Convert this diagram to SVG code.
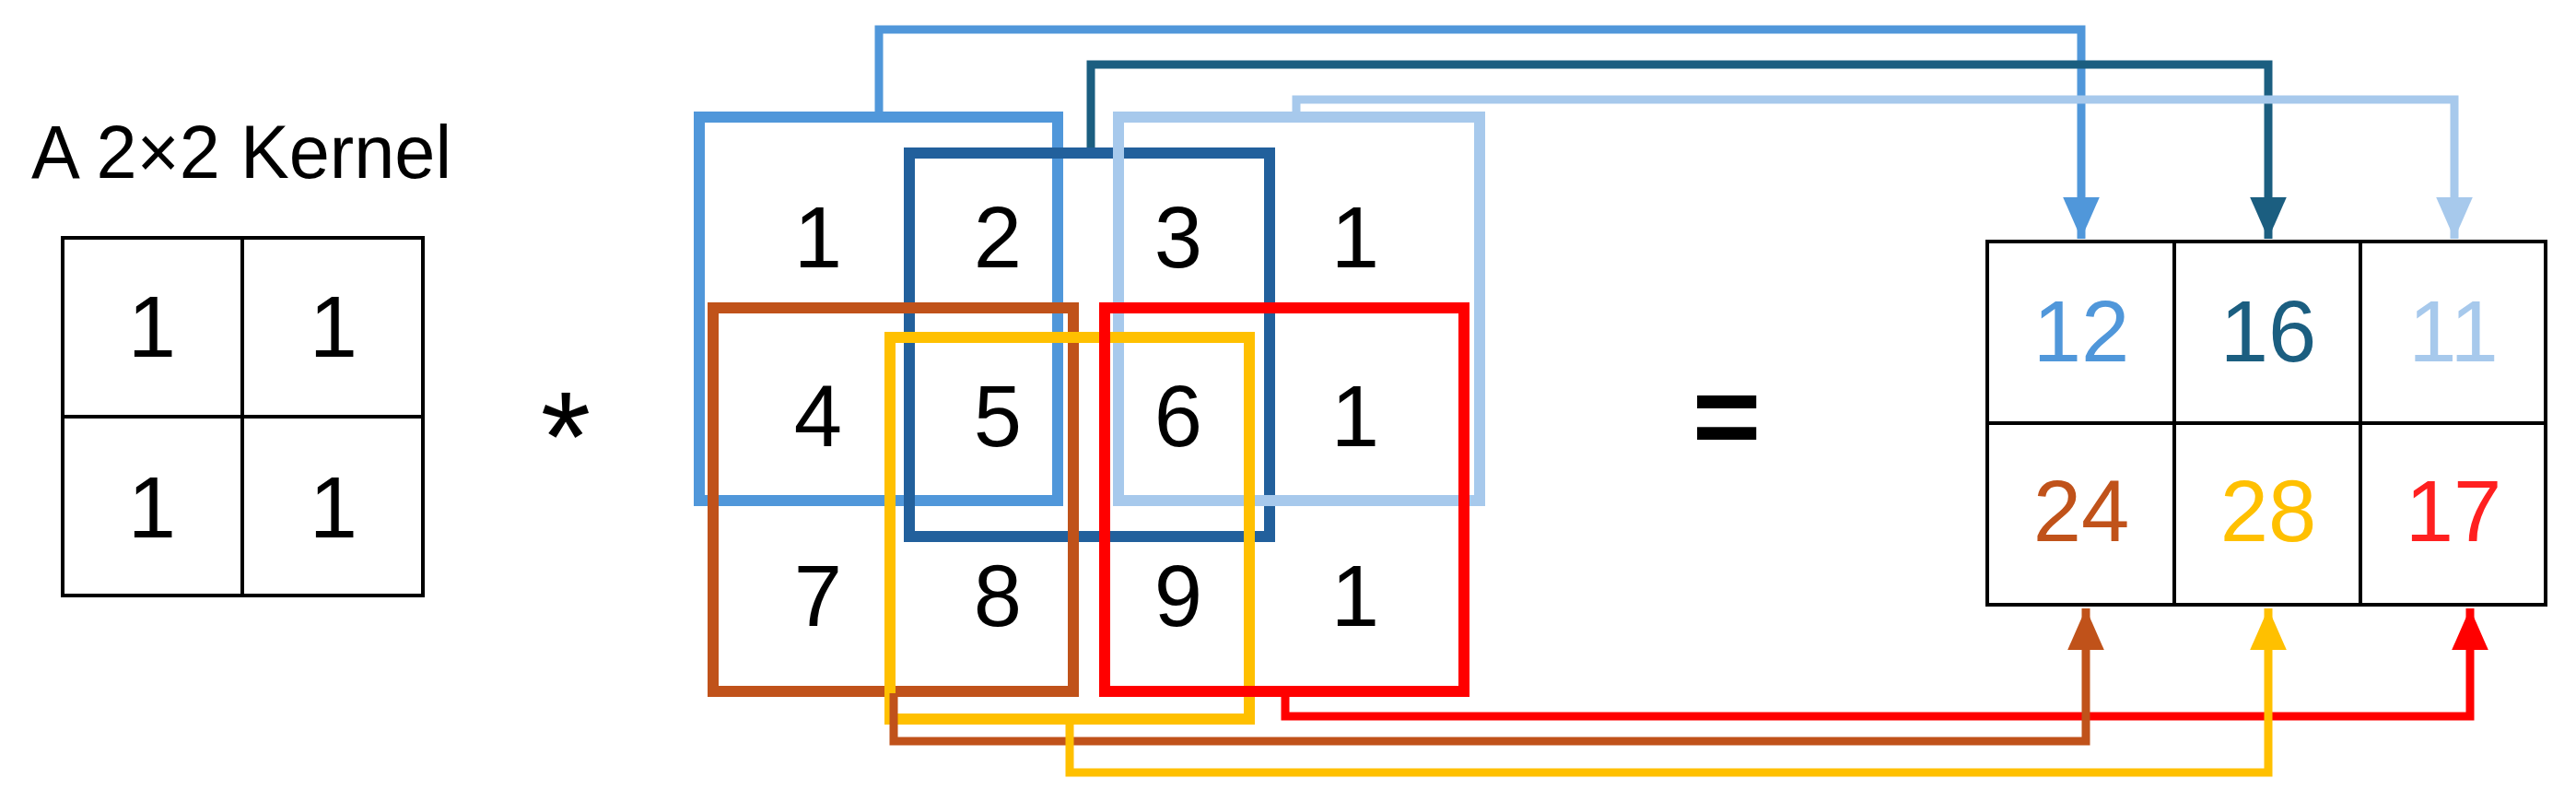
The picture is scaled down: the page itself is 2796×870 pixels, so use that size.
<svg xmlns="http://www.w3.org/2000/svg" width="2796" height="870" viewBox="0 0 2796 870">
<style>
text{font-family:"Liberation Sans",Arial,sans-serif;text-anchor:middle}
.n{font-size:94px}
.g{fill:none;stroke:#000;stroke-width:4}
.b{fill:none;stroke-width:12}
.c{fill:none;stroke-width:9}
</style>
<defs>
<marker id="a1" viewBox="0 0 10 10" refX="10" refY="5" markerWidth="5" markerHeight="4.4" orient="auto" markerUnits="strokeWidth" preserveAspectRatio="none"><path d="M0,0L10,5L0,10z" fill="#5097DA"/></marker>
<marker id="a2" viewBox="0 0 10 10" refX="10" refY="5" markerWidth="5" markerHeight="4.4" orient="auto" markerUnits="strokeWidth" preserveAspectRatio="none"><path d="M0,0L10,5L0,10z" fill="#1B5E80"/></marker>
<marker id="a3" viewBox="0 0 10 10" refX="10" refY="5" markerWidth="5" markerHeight="4.4" orient="auto" markerUnits="strokeWidth" preserveAspectRatio="none"><path d="M0,0L10,5L0,10z" fill="#A7C9EC"/></marker>
<marker id="a4" viewBox="0 0 10 10" refX="10" refY="5" markerWidth="5" markerHeight="4.4" orient="auto" markerUnits="strokeWidth" preserveAspectRatio="none"><path d="M0,0L10,5L0,10z" fill="#C0521A"/></marker>
<marker id="a5" viewBox="0 0 10 10" refX="10" refY="5" markerWidth="5" markerHeight="4.4" orient="auto" markerUnits="strokeWidth" preserveAspectRatio="none"><path d="M0,0L10,5L0,10z" fill="#FFC000"/></marker>
<marker id="a6" viewBox="0 0 10 10" refX="10" refY="5" markerWidth="5" markerHeight="4.4" orient="auto" markerUnits="strokeWidth" preserveAspectRatio="none"><path d="M0,0L10,5L0,10z" fill="#FF0000"/></marker>
</defs>
<rect width="2796" height="870" fill="#fff"/>
<g id="kernel">
<text x="262" y="193" font-size="82" textLength="456" lengthAdjust="spacingAndGlyphs">A 2×2 Kernel</text>
<path class="g" d="M68,258H459V646H68Z M263,258V646 M68,452H459"/>
<text class="n" x="165" y="387">1</text><text class="n" x="362" y="387">1</text>
<text class="n" x="165" y="583">1</text><text class="n" x="362" y="583">1</text>
</g>
<g id="op-star"><text x="614" y="522" font-size="140">*</text></g>
<g id="input">
<text class="n" x="888" y="290">1</text><text class="n" x="1083" y="290">2</text><text class="n" x="1279" y="290">3</text><text class="n" x="1471" y="290">1</text>
<text class="n" x="888" y="484">4</text><text class="n" x="1083" y="484">5</text><text class="n" x="1279" y="484">6</text><text class="n" x="1471" y="484">1</text>
<text class="n" x="888" y="679">7</text><text class="n" x="1083" y="679">8</text><text class="n" x="1279" y="679">9</text><text class="n" x="1471" y="679">1</text>
</g>
<g id="windows">
<rect class="b" stroke="#5097DA" x="759" y="127" width="389" height="416"/>
<rect class="b" stroke="#22609C" x="987" y="166" width="391" height="416"/>
<rect class="b" stroke="#A7C9EC" x="1214" y="127" width="392" height="416"/>
<rect class="b" stroke="#C0521A" x="774" y="334" width="391" height="416"/>
<rect class="b" stroke="#FFC000" x="966" y="366" width="390" height="414"/>
<rect class="b" stroke="#FF0000" x="1199" y="334" width="390" height="416"/>
</g>
<g id="op-eq"><text x="1874" y="495" font-size="128" font-weight="bold">=</text></g>
<g id="output">
<path class="g" d="M2157,262H2763V656H2157Z M2360,262V656 M2562,262V656 M2157,459H2763"/>
<text class="n" x="2259" y="392" fill="#5097DA">12</text>
<text class="n" x="2462" y="392" fill="#1B5E80">16</text>
<text class="n" x="2663" y="392" fill="#A7C9EC">11</text>
<text class="n" x="2259" y="587" fill="#C0521A">24</text>
<text class="n" x="2462" y="587" fill="#FFC000">28</text>
<text class="n" x="2663" y="587" fill="#FF2020">17</text>
</g>
<g id="connectors">
<path class="c" stroke="#5097DA" marker-end="url(#a1)" d="M954,121V32H2259V259"/>
<path class="c" stroke="#1B5E80" marker-end="url(#a2)" d="M1184,160V70H2462V259"/>
<path class="c" stroke="#A7C9EC" marker-end="url(#a3)" d="M1407,121V108H2664V259"/>
<path class="c" stroke="#FF0000" marker-end="url(#a6)" d="M1395,756V777H2681V660"/>
<path class="c" stroke="#C0521A" marker-end="url(#a4)" d="M970,752V804H2264V660"/>
<path class="c" stroke="#FFC000" marker-end="url(#a5)" d="M1161,786V838H2462V660"/>
</g>
</svg>
